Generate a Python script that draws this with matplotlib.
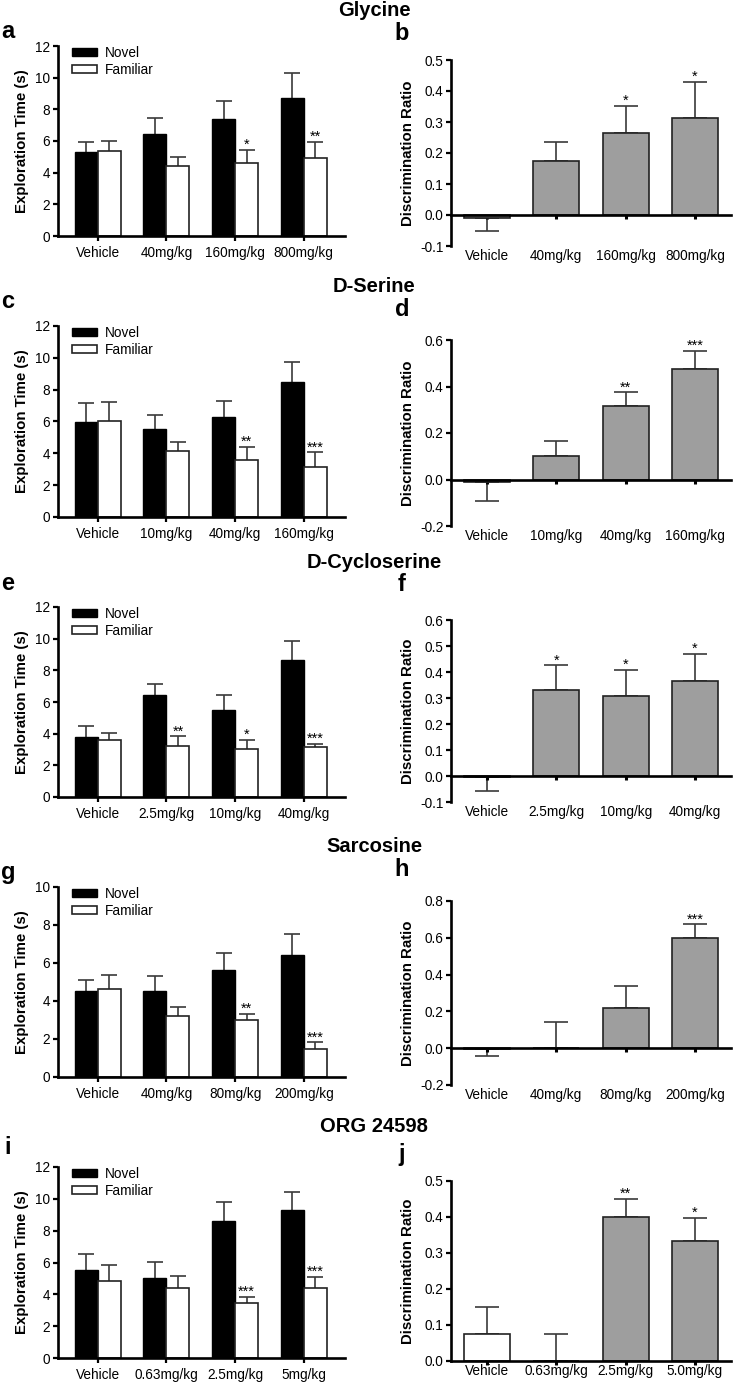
import numpy as np
import matplotlib
matplotlib.use("Agg")
import matplotlib.pyplot as plt

plt.rcParams['font.family'] = ['Liberation Sans', 'DejaVu Sans']

# ---- data ----
gly_doses = ["Vehicle", "40mg/kg", "160mg/kg", "800mg/kg"]
gly_novel = [5.31, 6.47, 7.42, 8.74]
gly_novel_err = [0.63, 1.0, 1.13, 1.55]
gly_fam = [5.38, 4.41, 4.62, 4.9]
gly_fam_err = [0.61, 0.61, 0.82, 1.05]
gly_fam_sig = ["", "", "*", "**"]
gly_dr = [-0.01, 0.175, 0.265, 0.312]
gly_dr_err = [0.041, 0.06, 0.088, 0.117]
gly_dr_sig = ["", "", "*", "*"]

dser_doses = ["Vehicle", "10mg/kg", "40mg/kg", "160mg/kg"]
dser_novel = [5.97, 5.55, 6.28, 8.46]
dser_novel_err = [1.19, 0.88, 1.0, 1.28]
dser_fam = [6.03, 4.13, 3.56, 3.12]
dser_fam_err = [1.22, 0.56, 0.84, 0.94]
dser_fam_sig = ["", "", "**", "***"]
dser_dr = [-0.009, 0.10, 0.316, 0.475]
dser_dr_err = [0.084, 0.067, 0.059, 0.078]
dser_dr_sig = ["", "", "**", "***"]

dcs_doses = ["Vehicle", "2.5mg/kg", "10mg/kg", "40mg/kg"]
dcs_novel = [3.78, 6.43, 5.48, 8.63]
dcs_novel_err = [0.69, 0.73, 0.95, 1.22]
dcs_fam = [3.61, 3.24, 3.05, 3.13]
dcs_fam_err = [0.46, 0.59, 0.57, 0.23]
dcs_fam_sig = ["", "**", "*", "***"]
dcs_dr = [-0.003, 0.33, 0.309, 0.367]
dcs_dr_err = [0.055, 0.096, 0.10, 0.104]
dcs_dr_sig = ["", "*", "*", "*"]

sar_doses = ["Vehicle", "40mg/kg", "80mg/kg", "200mg/kg"]
sar_novel = [4.51, 4.51, 5.65, 6.4]
sar_novel_err = [0.61, 0.79, 0.86, 1.14]
sar_fam = [4.65, 3.23, 2.98, 1.47]
sar_fam_err = [0.74, 0.47, 0.35, 0.35]
sar_fam_sig = ["", "", "**", "***"]
sar_dr = [-0.005, 0.0, 0.216, 0.6]
sar_dr_err = [0.04, 0.14, 0.124, 0.073]
sar_dr_sig = ["", "", "", "***"]

org_doses = ["Vehicle", "0.63mg/kg", "2.5mg/kg", "5mg/kg"]
org_doses_dr = ["Vehicle", "0.63mg/kg", "2.5mg/kg", "5.0mg/kg"]
org_novel = [5.51, 5.05, 8.63, 9.3]
org_novel_err = [1.05, 1.0, 1.15, 1.15]
org_fam = [4.82, 4.38, 3.48, 4.4]
org_fam_err = [1.03, 0.8, 0.38, 0.69]
org_fam_sig = ["", "", "***", "***"]
org_dr = [0.076, 0.0, 0.40, 0.333]
org_dr_err = [0.073, 0.076, 0.05, 0.065]
org_dr_sig = ["", "", "**", "*"]
org_dr_colors = ["white", "#9e9e9e", "#9e9e9e", "#9e9e9e"]

titles = ["Glycine", "D-Serine", "D-Cycloserine", "Sarcosine", "ORG 24598"]

W, H = 733, 1382
fig = plt.figure(figsize=(W / 100, H / 100), dpi=100)

GRAY = "#9e9e9e"
ECOL = "#3a3a3a"
TICKFS = 9.8


def axes_px(x0, x1, top, bottom):
    return fig.add_axes([x0 / W, 1 - bottom / H, (x1 - x0) / W, (bottom - top) / H])


def style(ax):
    for s in ["top", "right"]:
        ax.spines[s].set_visible(False)
    for s in ["left", "bottom"]:
        ax.spines[s].set_linewidth(1.9)
    ax.tick_params(axis="both", direction="out", width=1.6, length=3.5, labelsize=TICKFS, pad=2)


def stars(ax, x, tops, sig):
    for xi, t, s in zip(x, tops, sig):
        if s:
            ax.annotate(s, (xi, t), xytext=(0, -1.5), textcoords="offset points",
                        ha="center", va="bottom", fontsize=10.5)


def explore_panel(ax, doses, novel, novel_err, fam, fam_err, fam_sig, ymax):
    x = np.arange(len(doses))
    w = 0.335
    ax.bar(x - w / 2, novel, w, color="black", edgecolor="black", linewidth=1.0,
           zorder=2, label="Novel")
    ax.bar(x + w / 2, fam, w, color="white", edgecolor="#222222", linewidth=1.2,
           zorder=2, label="Familiar")
    ax.errorbar(x - w / 2, novel, yerr=novel_err, fmt="none", ecolor=ECOL,
                elinewidth=1.2, capsize=6, capthick=1.2, zorder=1)
    ax.errorbar(x + w / 2, fam, yerr=fam_err, fmt="none", ecolor=ECOL,
                elinewidth=1.2, capsize=6, capthick=1.2, zorder=1)
    stars(ax, x + w / 2, np.array(fam) + np.array(fam_err), fam_sig)
    ax.set_xlim(-0.58, 3.6)
    ax.set_ylim(0, ymax)
    ax.set_yticks(np.arange(0, ymax + 1, 2))
    ax.set_xticks(x, doses)
    style(ax)
    ax.tick_params(axis="x", pad=3.5)
    ax.set_ylabel("Exploration Time (s)", fontsize=10.8, fontweight="bold")
    ax.yaxis.set_label_coords(-0.10, 0.5)
    ax.legend(loc="upper left", bbox_to_anchor=(0.05, 1.0), frameon=False,
              fontsize=TICKFS, handlelength=1.8, handleheight=0.55, handletextpad=0.6,
              labelspacing=0.2, borderpad=0, borderaxespad=0)


def ratio_panel(ax, doses, dr, dr_err, dr_sig, ylo, yhi, step, colors=None):
    x = np.arange(len(doses))
    if colors is None:
        colors = [GRAY] * len(doses)
    ax.bar(x, dr, 0.66, color=colors, edgecolor="#222222", linewidth=1.2, zorder=2)
    dr = np.array(dr)
    dr_err = np.array(dr_err)
    lower = np.where(dr < 0, dr_err, 0)
    upper = np.where(dr < 0, 0, dr_err)
    ax.errorbar(x, dr, yerr=[lower, upper], fmt="none", ecolor=ECOL,
                elinewidth=1.2, capsize=8.5, capthick=1.2, zorder=1)
    stars(ax, x, dr + upper, dr_sig)
    ax.set_xlim(-0.52, 3.52)
    ax.set_ylim(ylo, yhi)
    ax.set_yticks(np.round(np.arange(ylo, yhi + step / 2, step), 2))
    ax.yaxis.set_major_formatter(matplotlib.ticker.FormatStrFormatter("%.1f"))
    style(ax)
    ax.spines["bottom"].set_position(("data", 0))
    ax.spines["bottom"].set_zorder(3)
    ax.set_xticks(x)
    ax.tick_params(axis="x", labelbottom=False, length=3, width=2.2)
    sec = ax.secondary_xaxis(0.0)
    sec.set_xticks(x, doses)
    sec.tick_params(length=0, labelsize=TICKFS, pad=2.5)
    sec.spines["bottom"].set_visible(False)
    ax.set_ylabel("Discrimination Ratio", fontsize=10.8, fontweight="bold")
    ax.yaxis.set_label_coords(-0.13, 0.5)


LX0, LX1 = 58, 345
RX0, RX1 = 451, 731
left_rows = [(46, 236), (326, 517), (607, 797), (887, 1077), (1167, 1358)]
right_rows = [(60, 246), (340, 526), (620, 802), (901, 1085), (1181, 1361)]
title_y = [10, 287, 562, 846, 1126]
left_letter_y = [31, 302, 583, 872, 1148]
right_letter_y = [33, 310, 584, 870, 1154]
letters = "abcdefghij"

explore = [
    (gly_doses, gly_novel, gly_novel_err, gly_fam, gly_fam_err, gly_fam_sig, 12),
    (dser_doses, dser_novel, dser_novel_err, dser_fam, dser_fam_err, dser_fam_sig, 12),
    (dcs_doses, dcs_novel, dcs_novel_err, dcs_fam, dcs_fam_err, dcs_fam_sig, 12),
    (sar_doses, sar_novel, sar_novel_err, sar_fam, sar_fam_err, sar_fam_sig, 10),
    (org_doses, org_novel, org_novel_err, org_fam, org_fam_err, org_fam_sig, 12),
]
ratios = [
    (gly_doses, gly_dr, gly_dr_err, gly_dr_sig, -0.1, 0.5, 0.1, None),
    (dser_doses, dser_dr, dser_dr_err, dser_dr_sig, -0.2, 0.6, 0.2, None),
    (dcs_doses, dcs_dr, dcs_dr_err, dcs_dr_sig, -0.1, 0.6, 0.1, None),
    (sar_doses, sar_dr, sar_dr_err, sar_dr_sig, -0.2, 0.8, 0.2, None),
    (org_doses_dr, org_dr, org_dr_err, org_dr_sig, 0.0, 0.5, 0.1, org_dr_colors),
]

for i in range(5):
    axl = axes_px(LX0, LX1, *left_rows[i])
    explore_panel(axl, *explore[i])
    axr = axes_px(RX0, RX1, *right_rows[i])
    ratio_panel(axr, *ratios[i])
    fig.text(374 / W, 1 - title_y[i] / H, titles[i], ha="center", va="center",
             fontsize=14.5, fontweight="bold")
    fig.text(8 / W, 1 - left_letter_y[i] / H, letters[2 * i], ha="center", va="center",
             fontsize=17, fontweight="bold")
    fig.text(402 / W, 1 - right_letter_y[i] / H, letters[2 * i + 1], ha="center",
             va="center", fontsize=17, fontweight="bold")

fig.savefig("out.png", dpi=100)
